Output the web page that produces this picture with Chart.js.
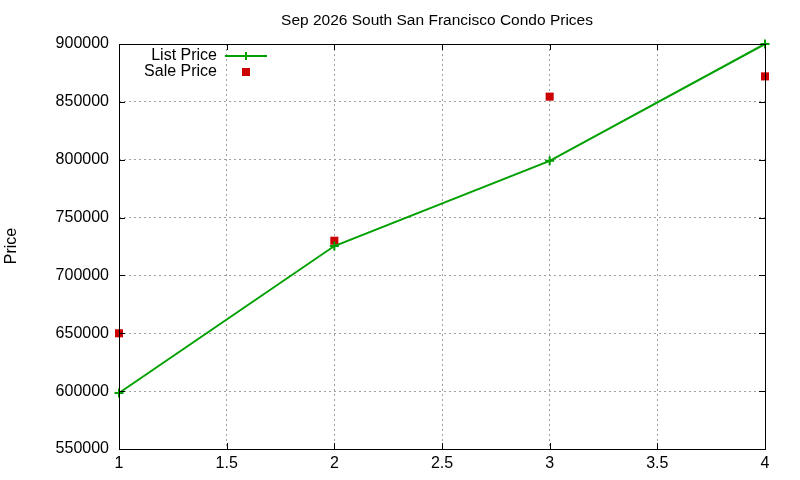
<!DOCTYPE html>
<html><head><meta charset="utf-8">
<script src="https://cdn.jsdelivr.net/npm/chart.js@4"></script>
<style>html,body{margin:0;padding:0;background:#fff;}#wrap{width:800px;height:480px;}</style>
</head><body><div id="wrap"><canvas id="c" width="800" height="480"></canvas></div>
<script>
const chartTitle = "Sep 2026 South San Francisco Condo Prices";
const yAxisTitle = "Price";
const xValues = [1, 2, 3, 4];
const listPrice = [598400, 725400, 799000, 900000];
const salePrice = [650000, 730000, 854500, 872000];
const seriesNames = ["List Price", "Sale Price"];

const FONT = "'Liberation Sans', Arial, sans-serif";
const PL = 119, PR = 765, PT = 44, PB = 449;

const decor = {
  id: 'decor',
  afterDraw(chart) {
    const ctx = chart.ctx, ca = chart.chartArea;
    const xs = chart.scales.x, ys = chart.scales.y;
    ctx.save();
    ctx.strokeStyle = '#000'; ctx.lineWidth = 1;
    ctx.strokeRect(Math.round(ca.left)+0.5, Math.round(ca.top)+0.5, Math.round(ca.right-ca.left), Math.round(ca.bottom-ca.top));
    ctx.beginPath();
    ys.ticks.forEach(t => { const y = Math.round(ys.getPixelForValue(t.value))+0.5;
      ctx.moveTo(ca.left, y); ctx.lineTo(ca.left+6, y); ctx.moveTo(ca.right, y); ctx.lineTo(ca.right-6, y); });
    xs.ticks.forEach(t => { const x = Math.round(xs.getPixelForValue(t.value))+0.5;
      ctx.moveTo(x, ca.bottom); ctx.lineTo(x, ca.bottom-6); ctx.moveTo(x, ca.top); ctx.lineTo(x, ca.top+6); });
    ctx.stroke();
    ctx.fillStyle = '#000';
    ctx.font = '15.5px ' + FONT;
    ctx.textAlign = 'center'; ctx.textBaseline = 'middle';
    ctx.fillText(chartTitle, 437, 21);
    ctx.font = '16px ' + FONT;
    ctx.save(); ctx.translate(12, 246); ctx.rotate(-Math.PI/2);
    ctx.fillText(yAxisTitle, 0, 0); ctx.restore();
    const ds = chart.data.datasets;
    ctx.textAlign = 'right';
    ctx.fillText(ds[0].label, 217, 56);
    ctx.fillText(ds[1].label, 217, 72);
    ctx.strokeStyle = ds[0].borderColor; ctx.lineWidth = 2;
    ctx.beginPath(); ctx.moveTo(225, 56); ctx.lineTo(267, 56); ctx.stroke();
    ctx.beginPath(); ctx.moveTo(246, 52); ctx.lineTo(246, 60); ctx.stroke();
    ctx.fillStyle = ds[1].backgroundColor;
    ctx.fillRect(242, 68, 8, 8);
    ctx.restore();
  }
};

new Chart(document.getElementById('c'), {
  type: 'scatter',
  data: {
    datasets: [
      { label: seriesNames[0], data: xValues.map((x,i)=>({x, y:listPrice[i]})), showLine: true, clip: false,
        borderColor: '#00a000', backgroundColor: '#00a000', borderWidth: 2,
        pointStyle: 'cross', pointRadius: 4.5, pointBorderWidth: 2, pointHoverRadius: 4.5 },
      { label: seriesNames[1], data: xValues.map((x,i)=>({x, y:salePrice[i]})), showLine: false, clip: false,
        borderColor: '#cc0000', backgroundColor: '#cc0000', borderWidth: 0,
        pointStyle: 'rect', pointRadius: 5.7, pointHoverRadius: 5.7 }
    ]
  },
  options: {
    responsive: false, animation: false, devicePixelRatio: 1,
    layout: { padding: { top: PT, right: 800 - PR, left: 0, bottom: 0 } },
    plugins: { legend: { display: false }, title: { display: false }, tooltip: { enabled: false } },
    scales: {
      x: { type: 'linear', min: 1, max: 4,
        afterFit: s => { s.height = 480 - PB; },
        ticks: { stepSize: 0.5, color: '#000', font: { family: FONT, size: 16 }, padding: 5, maxRotation: 0,
          callback: v => String(v) },
        grid: { color: '#a0a0a0', drawTicks: false, lineWidth: 1 },
        border: { display: false, dash: [2, 3] } },
      y: { min: 550000, max: 900000,
        afterFit: s => { s.width = PL; },
        ticks: { stepSize: 50000, color: '#000', font: { family: FONT, size: 16 }, padding: 10,
          callback: v => String(v) },
        grid: { color: '#a0a0a0', drawTicks: false, lineWidth: 1 },
        border: { display: false, dash: [2, 3] } }
    }
  },
  plugins: [decor]
});
</script></body></html>
